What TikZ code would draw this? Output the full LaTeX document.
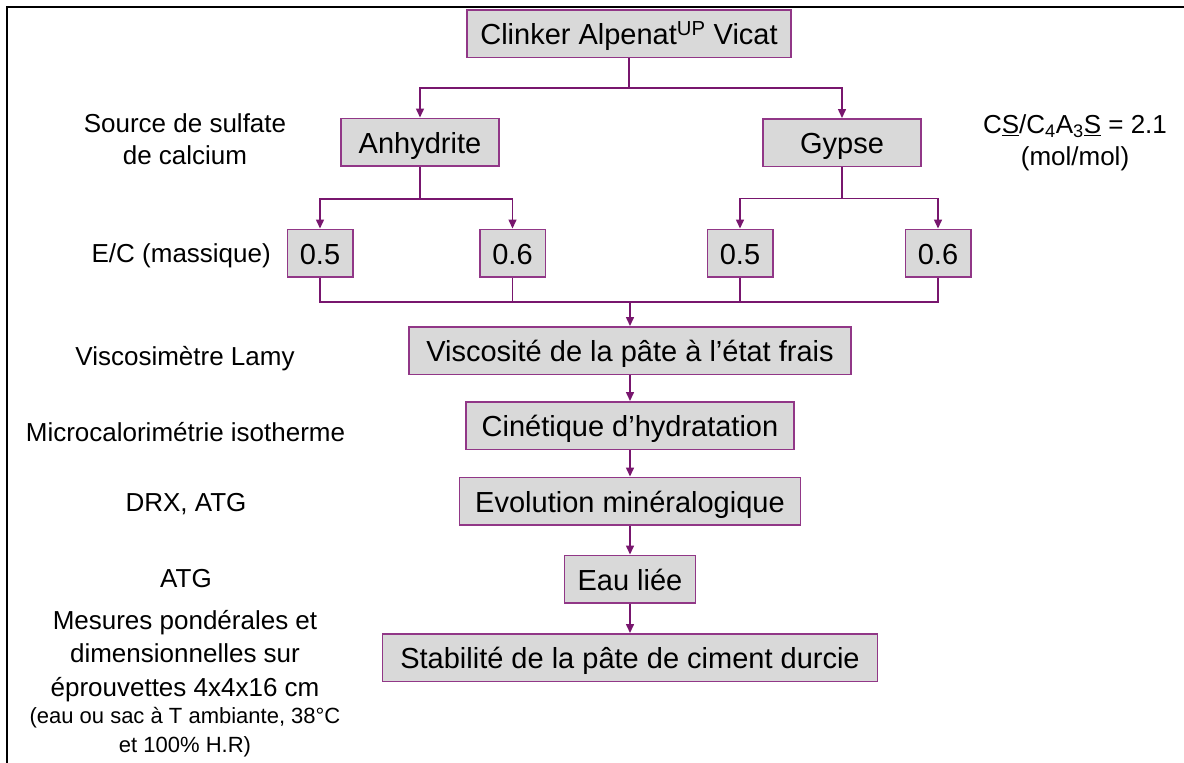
\documentclass[tikz,border=0pt]{standalone}
\usepackage{fontspec}
\setmainfont{Liberation Sans}
\usetikzlibrary{arrows.meta}
\definecolor{conn}{RGB}{120,22,110}
\definecolor{bord}{RGB}{145,55,135}
\definecolor{boxfill}{RGB}{217,217,217}
\tikzset{
  stepbox/.style={draw=bord, line width=1.5pt, fill=boxfill, inner sep=0pt,
    minimum height=47.5pt, text height=22pt, text depth=0pt,
    font=\fontsize{29}{34}\selectfont},
  lbl/.style={font=\fontsize{26}{32}\selectfont, align=center, inner sep=0pt},
  lblone/.style={font=\fontsize{26}{32}\selectfont, inner sep=0pt,
    text height=19pt, text depth=0pt},
  link/.style={draw=conn, line width=1.5pt},
  arr/.style={link, -{Triangle[length=9pt,width=8pt]}},
}
\begin{document}
\begin{tikzpicture}[x=1pt,y=-1pt]
\useasboundingbox (0,0) rectangle (1184,763);
\fill[white] (0,0) rectangle (1184,763);
\draw[line width=2pt] (1190,6.5) -- (6.5,6.5) -- (6.5,770);

% boxes
\node[stepbox, minimum width=324pt] (clinker) at (629,33.5) {Clinker Alpenat\textsuperscript{UP} Vicat};
\node[stepbox, minimum width=158pt] (anh) at (420,142) {Anhydrite};
\node[stepbox, minimum width=158pt] (gyp) at (842,142.5) {Gypse};
\node[stepbox, minimum width=65.5pt] (a5) at (320,253) {0.5};
\node[stepbox, minimum width=65.5pt] (a6) at (512.5,253) {0.6};
\node[stepbox, minimum width=65.5pt] (g5) at (740,253) {0.5};
\node[stepbox, minimum width=65.5pt] (g6) at (938,253) {0.6};
\node[stepbox, minimum width=442pt] (visc) at (630,350.5) {Viscosité de la pâte à l’état frais};
\node[stepbox, minimum width=328pt] (cin) at (630,425.5) {Cinétique d’hydratation};
\node[stepbox, minimum width=341pt] (evo) at (630,501) {Evolution minéralogique};
\node[stepbox, minimum width=131pt] (eau) at (630,579) {Eau liée};
\node[stepbox, minimum width=495pt] (stab) at (630,657.5) {Stabilité de la pâte de ciment durcie};

% connectors
\coordinate (j1) at (629,88);
\draw[link] (clinker.south) -- (j1);
\draw[arr] (j1) -| (anh.north);
\draw[arr] (j1) -| (gyp.north);

\coordinate (j2) at (420,199);
\draw[link] (anh.south) -- (j2);
\draw[arr] (j2) -| (a5.north);
\draw[arr] (j2) -| (a6.north);

\coordinate (j3) at (842,198.5);
\draw[link] (gyp.south) -- (j3);
\draw[arr] (j3) -| (g5.north);
\draw[arr] (j3) -| (g6.north);

\coordinate (j5) at (630,302);
\draw[link] (a5.south) |- (j5);
\draw[link] (a6.south) |- (j5);
\draw[link] (g5.south) |- (j5);
\draw[link] (g6.south) |- (j5);
\draw[arr] (j5) -- (visc.north);

\draw[arr] (visc) -- (cin);
\draw[arr] (cin) -- (evo);
\draw[arr] (evo) -- (eau);
\draw[arr] (eau) -- (stab);

% labels
\node[lbl] (src) at (185,139) {Source de sulfate\\de calcium};
\node[lbl] (ratio) at (1075,143) {C\underline{S}/C\textsubscript{4}A\textsubscript{3}\underline{S} = 2.1\\(mol/mol)};
\node[lblone, anchor=east] (ec) at (271,253) {E/C (massique)};
\node[lblone] (visco) at (185,356) {Viscosimètre Lamy};
\node[lblone] (micro) at (185.5,432) {Microcalorimétrie isotherme};
\node[lblone] (drx) at (186,502) {DRX, ATG};
\node[lblone] (atg) at (186,578) {ATG};
\node[lbl, font=\fontsize{26}{33.5}\selectfont] (mes) at (185,656) {Mesures pondérales et\\dimensionnelles sur\\éprouvettes 4x4x16 cm};
\node[lbl, font=\fontsize{22}{29}\selectfont] (cond) at (185,732) {(eau ou sac à T ambiante, 38°C\\et 100\% H.R)};
\end{tikzpicture}
\end{document}
